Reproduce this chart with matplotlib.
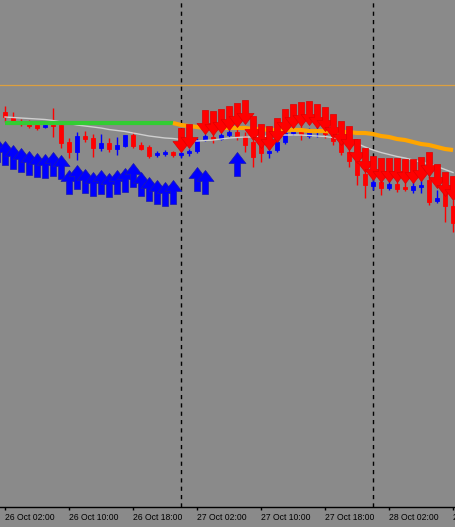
import numpy as np
import matplotlib
matplotlib.use("Agg")
import matplotlib.pyplot as plt
from matplotlib.path import Path

# H1 bars, 26 Oct 02:00 .. 28 Oct 10:00
opens = [1.1688, 1.1682, 1.1679, 1.1676, 1.1675, 1.1673, 1.1675, 1.1675, 1.1658, 1.1648,
         1.1664, 1.1662, 1.1652, 1.1657, 1.1651, 1.1654, 1.1665, 1.1655, 1.1653, 1.1645,
         1.1646, 1.1648, 1.1645, 1.1647, 1.1649, 1.1660, 1.1663, 1.1661, 1.1665, 1.1668,
         1.1664, 1.1658, 1.1655, 1.1647, 1.1650, 1.1658, 1.1667, 1.1671, 1.1664, 1.1668,
         1.1670, 1.1666, 1.1659, 1.1648, 1.1640, 1.1626, 1.1614, 1.1618, 1.1612, 1.1616,
         1.1613, 1.1610, 1.1613, 1.1620, 1.1599, 1.1616, 1.1594]
highs = [1.1694, 1.1688, 1.1681, 1.1680, 1.1676, 1.1679, 1.1692, 1.1676, 1.1662, 1.1668,
         1.1669, 1.1666, 1.1666, 1.1662, 1.1663, 1.1665, 1.1668, 1.1658, 1.1655, 1.1649,
         1.1650, 1.1649, 1.1649, 1.1651, 1.1662, 1.1666, 1.1666, 1.1667, 1.1670, 1.1676,
         1.1668, 1.1660, 1.1658, 1.1652, 1.1660, 1.1670, 1.1674, 1.1675, 1.1672, 1.1676,
         1.1674, 1.1670, 1.1662, 1.1652, 1.1645, 1.1632, 1.1622, 1.1624, 1.1620, 1.1622,
         1.1618, 1.1618, 1.1620, 1.1628, 1.1610, 1.1622, 1.1600]
lows = [1.1678, 1.1677, 1.1674, 1.1672, 1.1670, 1.1672, 1.1663, 1.1652, 1.1642, 1.1640,
        1.1658, 1.1643, 1.1649, 1.1648, 1.1645, 1.1653, 1.1652, 1.1650, 1.1642, 1.1643,
        1.1644, 1.1643, 1.1642, 1.1644, 1.1647, 1.1659, 1.1657, 1.1660, 1.1663, 1.1660,
        1.1648, 1.1633, 1.1638, 1.1642, 1.1648, 1.1656, 1.1665, 1.1660, 1.1662, 1.1663,
        1.1662, 1.1655, 1.1645, 1.1633, 1.1615, 1.1602, 1.1610, 1.1605, 1.1610, 1.1608,
        1.1609, 1.1607, 1.1607, 1.1595, 1.1597, 1.1578, 1.1568]
closes = [1.1683, 1.1678, 1.1677, 1.1674, 1.1672, 1.1675, 1.1674, 1.1657, 1.1648, 1.1664,
          1.1661, 1.1652, 1.1657, 1.1651, 1.1655, 1.1665, 1.1654, 1.1651, 1.1644, 1.1647,
          1.1648, 1.1645, 1.1647, 1.1649, 1.1660, 1.1664, 1.1661, 1.1665, 1.1668, 1.1664,
          1.1655, 1.1643, 1.1647, 1.1649, 1.1658, 1.1667, 1.1672, 1.1666, 1.1668, 1.1670,
          1.1666, 1.1659, 1.1648, 1.1639, 1.1625, 1.1615, 1.1618, 1.1612, 1.1616, 1.1611,
          1.1611, 1.1614, 1.1615, 1.1598, 1.1602, 1.1594, 1.1577]

# coloured moving average: green part then orange part (share bar 21)
ma_green = [1.1677] * 22
ma_orange = [1.1677, 1.1675, 1.1674, 1.1673, 1.1672, 1.1672, 1.1672, 1.1672, 1.1672, 1.1672,
             1.1671, 1.1671, 1.1670, 1.1670, 1.1670, 1.1670, 1.1670, 1.1669, 1.1669, 1.1669,
             1.1668, 1.1668, 1.1668, 1.1667, 1.1667, 1.1666, 1.1664, 1.1663, 1.1661, 1.1660,
             1.1658, 1.1656, 1.1655, 1.1653, 1.1651, 1.1650]
# thin grey moving average
ma_grey = [1.1683, 1.16825, 1.1682, 1.16815, 1.1681, 1.16805, 1.16795, 1.1678, 1.16765, 1.1675,
           1.1674, 1.1673, 1.1672, 1.16705, 1.16695, 1.16685, 1.1667, 1.16655, 1.1664, 1.1663,
           1.1662, 1.16615, 1.16605, 1.16595, 1.1659, 1.16595, 1.1660, 1.1661, 1.1662, 1.16625,
           1.1663, 1.1663, 1.16635, 1.1664, 1.16645, 1.1665, 1.1665, 1.1665, 1.16645, 1.1664,
           1.16635, 1.16625, 1.1661, 1.1659, 1.16565, 1.1653, 1.1650, 1.16475, 1.16455, 1.16435,
           1.1642, 1.1640, 1.1638, 1.1636, 1.16335, 1.16305, 1.16275]

# signal arrows (bar index, price of arrow tip)
buy_bars = [-1, 0, 1, 2, 3, 4, 5, 6, 7, 8, 9, 10, 11, 12, 13, 14, 15, 16, 17, 18, 19, 20, 21, 24, 25, 29]
buy_tips = [1.1662, 1.1659, 1.1655, 1.1652, 1.1649, 1.1647, 1.1646, 1.1648, 1.1645, 1.1630,
            1.1635, 1.1631, 1.1628, 1.1630, 1.1627, 1.1630, 1.1632, 1.1637, 1.1628, 1.1623,
            1.1620, 1.1618, 1.1620, 1.1633, 1.1630, 1.1648]
sell_bars = [22, 23, 25, 26, 27, 28, 29, 30, 31, 32, 33, 34, 35, 36, 37, 38, 39, 40, 41, 42,
             43, 44, 45, 46, 47, 48, 49, 50, 51, 52, 53, 54, 55, 56]
sell_tips = [1.1648, 1.1652, 1.1666, 1.1665, 1.1667, 1.1670, 1.1673, 1.1676, 1.1660, 1.1652,
             1.1650, 1.1658, 1.1667, 1.1672, 1.1674, 1.1675, 1.1672, 1.1669, 1.1662, 1.1655,
             1.1650, 1.1637, 1.1628, 1.1620, 1.1618, 1.1618, 1.1618, 1.1617, 1.1617, 1.1619,
             1.1624, 1.1612, 1.1604, 1.1600]

level = 1.1715
day_breaks = [22, 46]
tick_bars = [0, 8, 16, 24, 32, 40, 48, 56]
tick_labels = ["26 Oct 02:00", "26 Oct 10:00", "26 Oct 18:00", "27 Oct 02:00",
               "27 Oct 10:00", "27 Oct 18:00", "28 Oct 02:00", "28 Oct 10:00"]

bg = "#8a8a8a"
fig = plt.figure(figsize=(4.55, 5.27), dpi=100, facecolor=bg)
ax = fig.add_axes([0, 20 / 527, 1, 507 / 527], facecolor=bg)

x = np.arange(len(opens))
o = np.array(opens); h = np.array(highs); l = np.array(lows); c = np.array(closes)
up = c >= o
col = np.where(up, "#0000ff", "#ff0000")

# candles
ax.vlines(x, l, h, colors=col, lw=1, zorder=2)
body_lo = np.minimum(o, c)
body_h = np.maximum(np.abs(c - o), 0.00012)
ax.bar(x, body_h, bottom=body_lo, width=0.55, color=col, edgecolor=col, lw=0.6, zorder=3)

# lines
ax.axhline(level, color="#dca040", lw=0.9, zorder=1)
for b in day_breaks:
    ax.axvline(b, color="black", lw=1, ls=(0, (3, 3)), zorder=1)
ax.plot(x, ma_grey, color="#cfcfcf", lw=1, zorder=4)
ax.plot(np.arange(22), ma_green, color="#33cc33", lw=3, zorder=4, solid_capstyle="butt")
ax.plot(np.arange(21, 57), ma_orange, color="#ffa500", lw=3, zorder=4, solid_capstyle="butt")

# arrow markers, tip at the anchor point
up_arrow = Path([(0, 0), (8.5, -11), (3, -11), (3, -24), (-3, -24), (-3, -11), (-8.5, -11), (0, 0)],
                [Path.MOVETO] + [Path.LINETO] * 6 + [Path.CLOSEPOLY])
down_arrow = Path([(0, 0), (8.5, 11), (3, 11), (3, 24), (-3, 24), (-3, 11), (-8.5, 11), (0, 0)],
                  [Path.MOVETO] + [Path.LINETO] * 6 + [Path.CLOSEPOLY])
msize = 48 * 72 / 100
ax.plot(buy_bars, buy_tips, ls="none", marker=up_arrow, markersize=msize,
        color="#0000ff", markeredgecolor="#1a1ab0", markeredgewidth=0.5, zorder=5)
ax.plot(sell_bars, sell_tips, ls="none", marker=down_arrow, markersize=msize,
        color="#ff0000", markeredgecolor="#e00000", markeredgewidth=0.5, zorder=5)

ax.set_xlim(-0.625, 56.25)
ax.set_ylim(1.1293, 1.1800)

for s in ["top", "left", "right"]:
    ax.spines[s].set_visible(False)
ax.spines["bottom"].set_color("black")
ax.spines["bottom"].set_linewidth(1)
ax.set_yticks([])
ax.set_xticks(tick_bars)
ax.set_xticklabels(tick_labels, fontsize=6.2, family="Liberation Sans", ha="left")
ax.tick_params(axis="x", direction="out", length=2.5, width=1, color="black", pad=2)
for lab in ax.get_xticklabels():
    lab.set_x(lab.get_position()[0])

fig.savefig("out.png", dpi=100, facecolor=bg)
